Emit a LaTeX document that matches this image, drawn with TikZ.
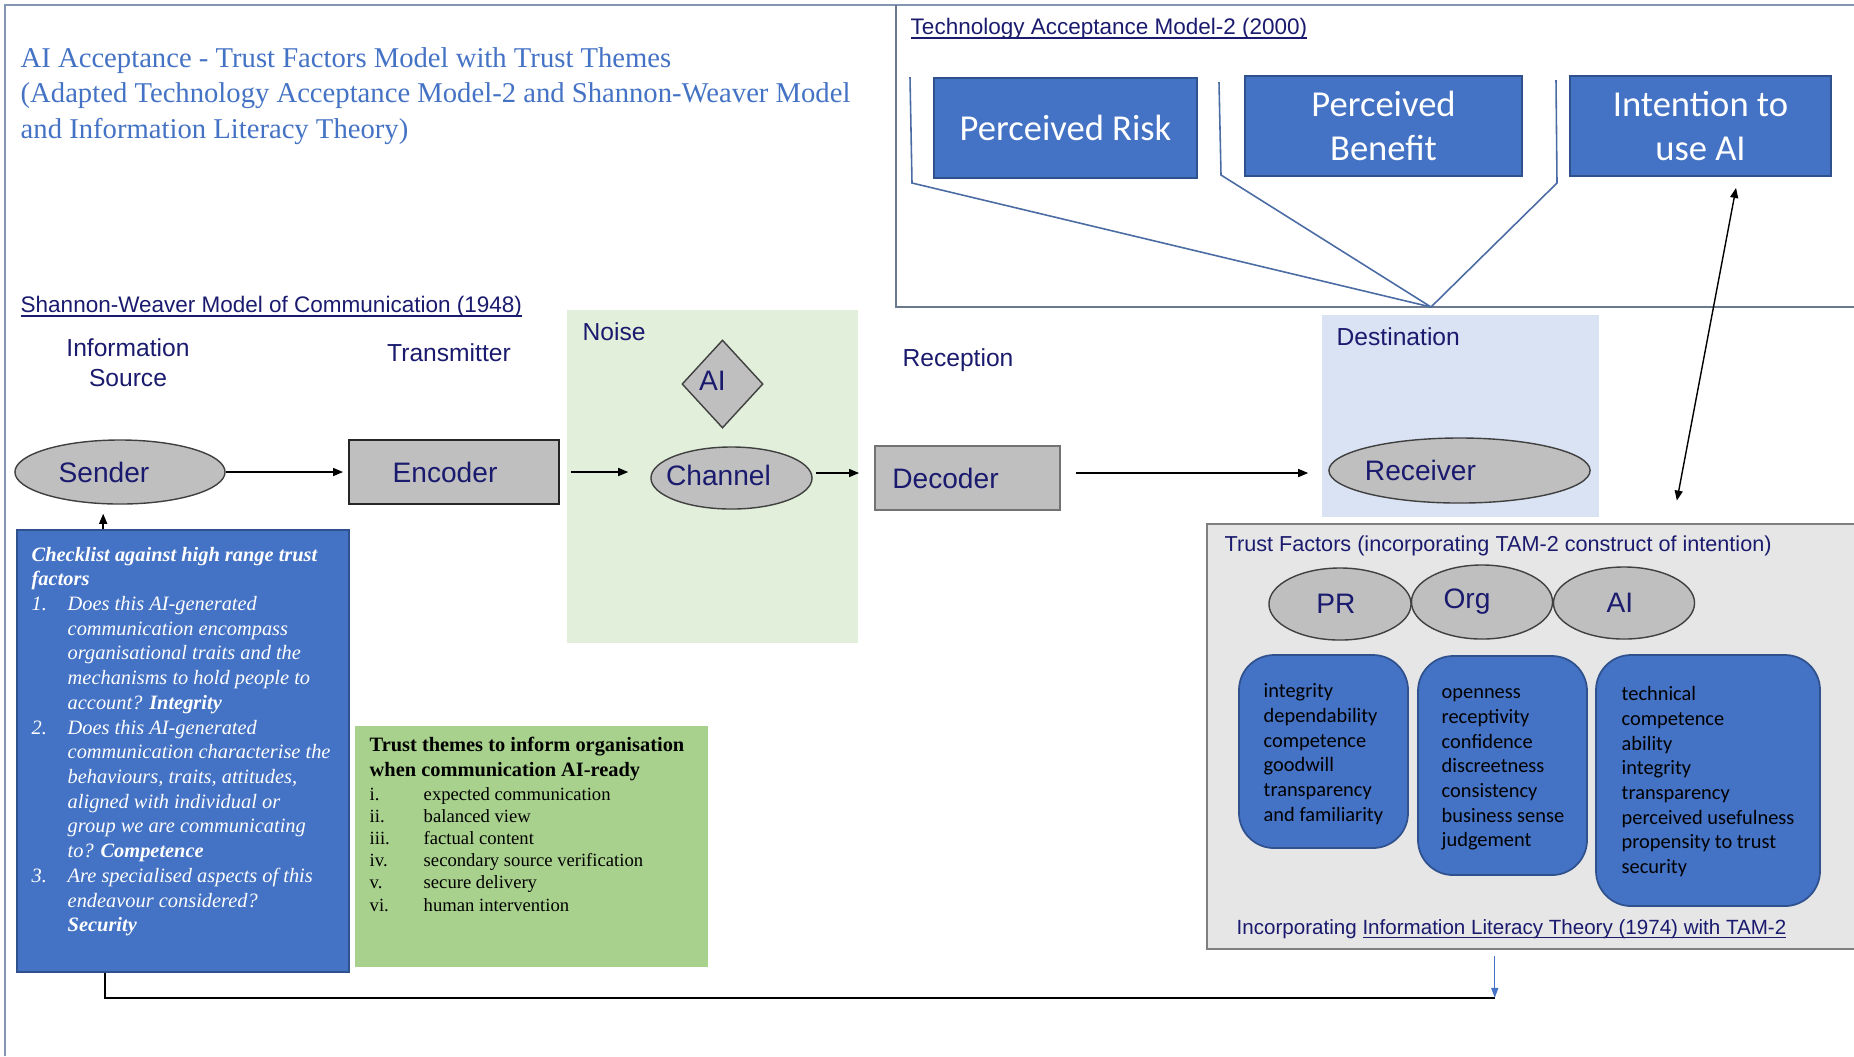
\documentclass[tikz,border=0pt]{standalone}
\usepackage{fontspec}
\setmainfont{Liberation Serif}
\setsansfont{Liberation Sans}
\newfontfamily\calibri{Carlito}
\usetikzlibrary{shapes.geometric,arrows.meta,fit}

\definecolor{navy}{RGB}{26,26,110}
\definecolor{tblue}{HTML}{4472C4}
\definecolor{bblue}{HTML}{2F528F}
\definecolor{gfill}{HTML}{BFBFBF}
\definecolor{noisebg}{HTML}{E2EFDA}
\definecolor{destbg}{HTML}{DAE3F3}
\definecolor{tfbg}{HTML}{E7E6E6}
\definecolor{tfborder}{HTML}{7F7F7F}
\definecolor{themebg}{HTML}{A9D18E}
\definecolor{framec}{HTML}{8497B0}
\definecolor{tamline}{HTML}{4A6BA3}

\newsavebox\ulbox
\newcommand\uln[1]{\sbox\ulbox{#1}\rlap{\rule[-0.17em]{\wd\ulbox}{0.06em}}\usebox\ulbox}
\newcommand\shiftx[2]{\makebox[0pt]{\hspace*{#1}#2\hspace*{-#1}}}
\newcommand\chkind{\hspace*{0.36cm}}
\newcommand\chknum[1]{\makebox[0.36cm][l]{#1}}
\newcommand\thn[1]{\makebox[0.54cm][l]{#1}}

\tikzset{
  lab/.style={font=\sffamily\fontsize{7}{8.5}\selectfont, text=navy, inner sep=0, align=center},
  head/.style={font=\sffamily\fontsize{6.4}{7.6}\selectfont, text=navy, inner sep=0},
  oval/.style={ellipse, draw=black!75, fill=gfill, line width=0.4pt, inner sep=0,
    font=\sffamily\fontsize{8}{9.6}\selectfont, text=navy},
  greybox/.style={rectangle, fill=gfill, inner sep=0, line width=0.5pt,
    font=\sffamily\fontsize{8}{9.6}\selectfont, text=navy},
  tambox/.style={rectangle, fill=tblue, draw=bblue, line width=0.5pt, inner sep=0,
    text=white, align=center, font=\calibri\fontsize{10.4}{12.6}\selectfont},
  trait/.style={rectangle, rounded corners=0.35cm, fill=tblue, draw=bblue, line width=0.5pt, inner sep=0},
  traittext/.style={inner sep=0, anchor=north west, align=left,
    font=\calibri\fontsize{5.8}{7}\selectfont, text=black},
  arr/.style={-{Triangle[length=0.1cm,width=0.08cm]}, line width=0.4pt, black},
  area/.style={inner sep=0, draw=none},
}

\begin{document}
\begin{tikzpicture}[x=0.01cm,y=-0.01cm]
\useasboundingbox (0,0) rectangle (1854,1056);

% frames
\draw[framec, line width=0.5pt] (5,1056) -- (5,5) -- (1854,5);
\draw[framec!80!black, line width=0.45pt] (896,5) -- (896,307) -- (1854,307);

% title
\node[anchor=west, inner sep=0, align=left, text=tblue, font=\fontsize{8.15}{10}\selectfont] (title) at (20,96)
  {AI Acceptance - Trust Factors Model with Trust Themes\\(Adapted Technology Acceptance Model-2 and Shannon-Weaver Model\\and Information Literacy Theory)};

% TAM-2
\node[head, anchor=west] (tamtitle) at (910,29) {\uln{Technology Acceptance Model-2 (2000)}};
\node[tambox, minimum width=2.63cm, minimum height=1.00cm] (pr) at (1065.5,128) {Perceived Risk};
\node[tambox, minimum width=2.77cm, minimum height=1.00cm] (pb) at (1383.5,126) {Perceived\\Benefit};
\node[tambox, minimum width=2.61cm, minimum height=1.00cm] (int) at (1700.5,126) {Intention to\\use AI};
\coordinate (apex) at (1431,307);
\draw[tamline, line width=0.45pt] (910,77) -- (912,183) -- (apex);
\draw[tamline, line width=0.45pt] (1219,82) -- (1221,175) -- (apex);
\draw[tamline, line width=0.45pt] (1556,80) -- (1557,183) -- (apex);

% Shannon-Weaver
\node[head, anchor=west] (swtitle) at (20,307) {\uln{Shannon-Weaver Model of Communication (1948)}};
\node[area, fill=noisebg, fit={(567,310) (858,643)}] (noise) {};
\node[area, fill=destbg, fit={(1322,315) (1599,517)}] (dest) {};

\node[lab] (infosrc) at (128,363) {Information\\Source};
\node[lab] (transm) at (449,353) {Transmitter};
\node[lab, anchor=west] (noiselab) at (582,332) {Noise};
\node[lab] (recep) at (958,360) {Reception};
\node[lab, anchor=west] (destlab) at (1336,337) {Destination};

\node[oval, minimum width=2.10cm, minimum height=0.64cm] (sender) at (120,472) {\shiftx{-0.16cm}{Sender}};
\node[greybox, draw=black!85, minimum width=2.10cm, minimum height=0.64cm] (enc) at (454,472) {\shiftx{-0.09cm}{Encoder}};
\node[diamond, draw=black!75, fill=gfill, line width=0.4pt, inner sep=0, minimum width=0.81cm, minimum height=0.88cm,
  font=\sffamily\fontsize{8}{9.6}\selectfont, text=navy] (aidia) at (722.5,384) {\shiftx{-0.1cm}{\raisebox{0.06cm}{AI}}};
\node[oval, minimum width=1.61cm, minimum height=0.62cm] (chan) at (731.5,478) {\shiftx{-0.13cm}{\raisebox{0.06cm}{Channel}}};
\node[greybox, draw=black!55, minimum width=1.85cm, minimum height=0.64cm] (dec) at (967.5,478) {\shiftx{-0.22cm}{Decoder}};
\node[oval, minimum width=2.61cm, minimum height=0.65cm] (recv) at (1459.5,470.5) {\shiftx{-0.39cm}{Receiver}};

\draw[arr, shorten >=0.05cm] (sender.east) -- (sender.east -| enc.west);
\draw[arr, shorten <=0.11cm, shorten >=0.22cm] (enc.east) -- (enc.east -| chan.west);
\draw[arr, shorten <=0.03cm, shorten >=0.15cm] ([yshift=0.05cm]chan.east) -- ([yshift=0.05cm]chan.east -| dec.west);
\draw[arr, shorten <=0.15cm, shorten >=0.2cm] ([yshift=0.05cm]dec.east) -- ([yshift=0.05cm]dec.east -| recv.west);

% Checklist
\node[fill=tblue, draw=bblue, line width=0.5pt, inner sep=0, fit={(17,530) (349,972)}] (chk) {};
\node[anchor=north west, inner sep=0, align=left, text=white, font=\itshape\fontsize{5.8}{7.03}\selectfont] (chktext) at (31,543)
 {\strut\textbf{Checklist against high range trust}\\
  \textbf{factors}\\
  \chknum{1.}Does this AI-generated\\
  \chkind communication encompass\\
  \chkind organisational traits and the\\
  \chkind mechanisms to hold people to\\
  \chkind account? \textbf{Integrity}\\
  \chknum{2.}Does this AI-generated\\
  \chkind communication characterise the\\
  \chkind behaviours, traits, attitudes,\\
  \chkind aligned with individual or\\
  \chkind group we are communicating\\
  \chkind to? \textbf{Competence}\\
  \chknum{3.}Are specialised aspects of this\\
  \chkind endeavour considered?\\
  \chkind\textbf{Security}};

\coordinate (chkup) at ([xshift=0.87cm]chk.north west);
\draw[arr, shorten >=0.09cm] (chkup) -- (chkup |- sender.south);

% Trust themes
\node[area, fill=themebg, fit={(355,726) (708,967)}] (themes) {};
\node[anchor=north west, inner sep=0, align=left, font=\bfseries\fontsize{5.8}{7.1}\selectfont] (themetitle) at (369,733)
 {\strut Trust themes to inform organisation\\when communication AI-ready};
\node[anchor=north west, inner sep=0, align=left, font=\fontsize{5.3}{6.3}\selectfont] (themeitems) at (369,784)
 {\strut\thn{i.}expected communication\\
  \thn{ii.}balanced view\\
  \thn{iii.}factual content\\
  \thn{iv.}secondary source verification\\
  \thn{v.}secure delivery\\
  \thn{vi.}human intervention};

% Trust factors
\node[fill=tfbg, draw=tfborder, line width=0.8pt, inner sep=0, fit={(1207,524) (1880,949)}] (tf) {};
\node[head, anchor=west, font=\sffamily\fontsize{6.15}{7.6}\selectfont] (tftitle) at (1224,546) {Trust Factors (incorporating TAM-2 construct of intention)};
\node[oval, minimum width=1.42cm, minimum height=0.72cm] (epr) at (1340,604) {\shiftx{-0.04cm}{\raisebox{-0.03cm}{PR}}};
\node[oval, minimum width=1.41cm, minimum height=0.74cm] (eorg) at (1482,602) {\shiftx{-0.15cm}{\raisebox{-0.03cm}{Org}}};
\node[oval, minimum width=1.41cm, minimum height=0.72cm] (eai) at (1624,603) {\shiftx{-0.04cm}{AI}};

\node[trait, fit={(1239,655) (1408,848)}] (t1) {};
\node[trait, fit={(1418,656) (1587,875)}] (t2) {};
\node[trait, fit={(1596,655) (1820,906)}] (t3) {};
\node[traittext] (t1text) at (1263,680) {\strut integrity\\dependability\\competence\\goodwill\\transparency\\and familiarity};
\node[traittext] (t2text) at (1441,681) {\strut openness\\receptivity\\confidence\\discreetness\\consistency\\business sense\\judgement};
\node[traittext] (t3text) at (1621,683) {\strut technical\\competence\\ability\\integrity\\transparency\\perceived usefulness\\propensity to trust\\security};

\node[head, anchor=west, font=\sffamily\fontsize{5.85}{7.6}\selectfont] (tfbottom) at (1236,929) {Incorporating \uln{Information Literacy Theory (1974) with TAM-2}};

% intention <-> trust factors
\coordinate (ia) at ([xshift=0.355cm,yshift=-0.11cm]int.south);
\coordinate (ib) at ([xshift=4.71cm,yshift=0.22cm]tf.north west);
\draw[{Triangle[length=0.1cm,width=0.08cm]}-{Triangle[length=0.1cm,width=0.08cm]}, line width=0.4pt] (ia) -- (ib);

% bottom feedback connector
\coordinate (chkdown) at ([xshift=0.89cm]chk.south west);
\coordinate (tfdown) at ([xshift=2.89cm]tf.south west);
\coordinate (bl) at ([yshift=-0.25cm]chkdown);
\coordinate (br) at (bl -| tfdown);
\draw[line width=0.7pt] (chkdown) -- (bl) -- (br);
\draw[-{Triangle[length=0.1cm,width=0.07cm]}, tblue, line width=0.4pt, shorten <=0.06cm] (tfdown) -- (br);
\end{tikzpicture}
\end{document}
